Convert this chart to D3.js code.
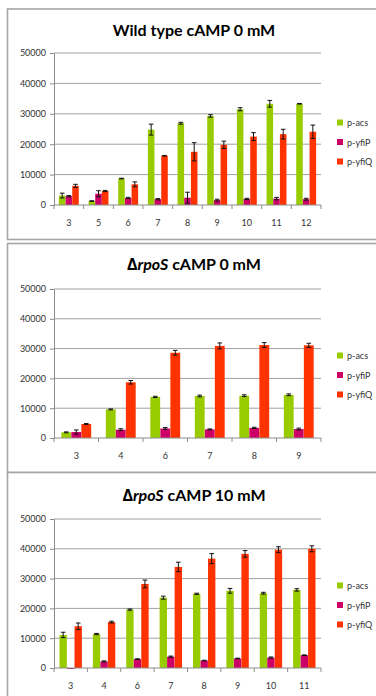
<!DOCTYPE html>
<html>
<head>
<meta charset="utf-8">
<script src="https://cdn.jsdelivr.net/npm/d3@7/dist/d3.min.js"></script>
<style>
  html, body { margin: 0; padding: 0; background: #fff; }
  svg { display: block; }
  text { font-family: Lato, "Open Sans", "Liberation Sans", sans-serif; }
</style>
</head>
<body>
<svg id="chart" width="376" height="696"></svg>
<script>
// Series names and colours
const seriesNames = ["p-acs", "p-yfiP", "p-yfiQ"];
const seriesColors = ["#99cc00", "#cc0066", "#ff3300"];
const yTicks = [0, 10000, 20000, 30000, 40000, 50000];

// Wild type, cAMP 0 mM
const wtCategories = ["3", "5", "6", "7", "8", "9", "10", "11", "12"];
const wtAcs   = [3100, 1300, 8700, 24800, 26900, 29300, 31500, 33300, 33300];
const wtAcsErr = [800, 100, 100, 1800, 300, 400, 500, 1100, 100];
const wtYfiP  = [2900, 3700, 2300, 1900, 2400, 1600, 2000, 2100, 1900];
const wtYfiPErr = [200, 1000, 200, 200, 1800, 300, 200, 400, 300];
const wtYfiQ  = [6300, 4600, 6800, 16200, 17500, 19800, 22500, 23300, 24100];
const wtYfiQErr = [500, 200, 800, 100, 3000, 1200, 1300, 1600, 2200];

// ΔrpoS, cAMP 0 mM
const r0Categories = ["3", "4", "6", "7", "8", "9"];
const r0Acs   = [1900, 9600, 13800, 14100, 14200, 14500];
const r0AcsErr = [150, 150, 200, 300, 300, 300];
const r0YfiP  = [2000, 2800, 3200, 2900, 3400, 3000];
const r0YfiPErr = [700, 300, 300, 150, 200, 300];
const r0YfiQ  = [4700, 18700, 28600, 30900, 31200, 31100];
const r0YfiQErr = [150, 600, 800, 1000, 800, 700];

// ΔrpoS, cAMP 10 mM
const r10Categories = ["3", "4", "6", "7", "8", "9", "10", "11"];
const r10Acs   = [11100, 11400, 19600, 23600, 24900, 25900, 25100, 26200];
const r10AcsErr = [900, 200, 200, 500, 200, 800, 300, 400];
const r10YfiP  = [-300, 2200, 3000, 3800, 2500, 3200, 3500, 4300];
const r10YfiPErr = [0, 200, 100, 200, 100, 100, 200, 100];
const r10YfiQ  = [14000, 15400, 28200, 33900, 36700, 38300, 39700, 40000];
const r10YfiQErr = [1100, 300, 1300, 1600, 1700, 1100, 1000, 1000];

const svg = d3.select("#chart");

// Panel frames (left and horizontal borders, open to the right edge)
const frames = [
  { top: 9, bottom: 239.5 },
  { top: 243.5, bottom: 472.5 },
  { top: 472.5, bottom: 700 }
];
frames.forEach(f => {
  svg.append("rect")
    .attr("x", 7.5).attr("y", f.top)
    .attr("width", 380).attr("height", f.bottom - f.top)
    .attr("fill", "#fff")
    .attr("stroke", "#a6a6a6").attr("stroke-width", 1.6);
});

const panels = [
  {
    title: [{ t: "Wild type cAMP 0 mM" }],
    categories: wtCategories,
    values: [wtAcs, wtYfiP, wtYfiQ],
    errors: [wtAcsErr, wtYfiPErr, wtYfiQErr],
    yBottom: 205, yTop: 53, titleY: 36
  },
  {
    title: [{ t: "Δ", font: "'Open Sans', 'DejaVu Sans', sans-serif" }, { t: "rpoS", italic: true }, { t: " cAMP 0 mM" }],
    categories: r0Categories,
    values: [r0Acs, r0YfiP, r0YfiQ],
    errors: [r0AcsErr, r0YfiPErr, r0YfiQErr],
    yBottom: 438, yTop: 289, titleY: 270
  },
  {
    title: [{ t: "Δ", font: "'Open Sans', 'DejaVu Sans', sans-serif" }, { t: "rpoS", italic: true }, { t: " cAMP 10 mM" }],
    categories: r10Categories,
    values: [r10Acs, r10YfiP, r10YfiQ],
    errors: [r10AcsErr, r10YfiPErr, r10YfiQErr],
    yBottom: 668, yTop: 519, titleY: 501
  }
];

const plotLeft = 54, plotRight = 321;

panels.forEach(p => {
  const g = svg.append("g");

  const y = d3.scaleLinear().domain([0, 50000]).range([p.yBottom, p.yTop]);
  const x = d3.scaleBand().domain(p.categories).range([plotLeft, plotRight])
    .paddingInner(0.32).paddingOuter(0.16);
  const xs = d3.scaleBand().domain(seriesNames).range([0, x.bandwidth()]).padding(0.02);

  // Title
  const title = g.append("text")
    .attr("x", 194).attr("y", p.titleY)
    .attr("text-anchor", "middle")
    .attr("font-size", 16).attr("font-weight", "bold").attr("fill", "#000");
  p.title.forEach(part => {
    const ts = title.append("tspan").text(part.t)
      .attr("font-style", part.italic ? "italic" : "normal");
    if (part.font) ts.attr("font-family", part.font);
  });

  // Gridlines
  g.append("g")
    .selectAll("line").data(yTicks.slice(1)).join("line")
    .attr("x1", plotLeft).attr("x2", plotRight)
    .attr("y1", d => y(d)).attr("y2", d => y(d))
    .attr("stroke", "#a0a0a0").attr("stroke-width", 1);

  // Y axis
  const yAxis = g.append("g")
    .attr("transform", `translate(${plotLeft},0)`)
    .call(d3.axisLeft(y).tickValues(yTicks).tickSize(4).tickPadding(4).tickFormat(d3.format("d")));
  yAxis.select(".domain").attr("stroke", "#8c8c8c");
  yAxis.selectAll(".tick line").attr("stroke", "#8c8c8c");
  yAxis.selectAll(".tick text").attr("font-size", 9).attr("fill", "#333")
    .attr("font-family", "Lato, 'Open Sans', sans-serif");

  // Bars
  p.values.forEach((vals, si) => {
    g.append("g")
      .selectAll("rect").data(vals).join("rect")
      .attr("x", (d, i) => x(p.categories[i]) + xs(seriesNames[si]))
      .attr("y", d => Math.min(y(d), y(0)))
      .attr("width", xs.bandwidth())
      .attr("height", d => Math.abs(y(0) - y(d)))
      .attr("fill", seriesColors[si]);
  });

  // Error bars
  p.values.forEach((vals, si) => {
    const eg = g.append("g").attr("stroke", "#111").attr("stroke-width", 1);
    vals.forEach((v, i) => {
      const e = p.errors[si][i];
      if (!e) return;
      const cx = x(p.categories[i]) + xs(seriesNames[si]) + xs.bandwidth() / 2;
      const cw = 2.3;
      eg.append("line").attr("x1", cx).attr("x2", cx).attr("y1", y(v - e)).attr("y2", y(v + e));
      eg.append("line").attr("x1", cx - cw).attr("x2", cx + cw).attr("y1", y(v + e)).attr("y2", y(v + e));
      eg.append("line").attr("x1", cx - cw).attr("x2", cx + cw).attr("y1", y(v - e)).attr("y2", y(v - e));
    });
  });

  // X axis at zero with ticks between categories
  const boundaries = d3.range(p.categories.length + 1).map(i => plotLeft + i * (plotRight - plotLeft) / p.categories.length);
  g.append("line")
    .attr("x1", plotLeft).attr("x2", plotRight)
    .attr("y1", y(0)).attr("y2", y(0))
    .attr("stroke", "#8c8c8c");
  g.append("g").selectAll("line").data(boundaries).join("line")
    .attr("x1", d => d).attr("x2", d => d)
    .attr("y1", y(0)).attr("y2", y(0) + 4)
    .attr("stroke", "#8c8c8c");
  g.append("g").selectAll("text").data(p.categories).join("text")
    .attr("x", d => x(d) + x.bandwidth() / 2)
    .attr("y", y(0) + 21)
    .attr("text-anchor", "middle")
    .attr("font-size", 9).attr("fill", "#333")
    .text(d => d);

  // Legend
  const lg = g.append("g");
  seriesNames.forEach((name, si) => {
    const ly = p.yBottom - 82 + si * 19.5;
    lg.append("rect").attr("x", 337).attr("y", ly - 3.5).attr("width", 6).attr("height", 6)
      .attr("fill", seriesColors[si]);
    lg.append("text").attr("x", 347).attr("y", ly + 3)
      .attr("font-size", 9).attr("fill", "#333").text(name);
  });
});
</script>
</body>
</html>
